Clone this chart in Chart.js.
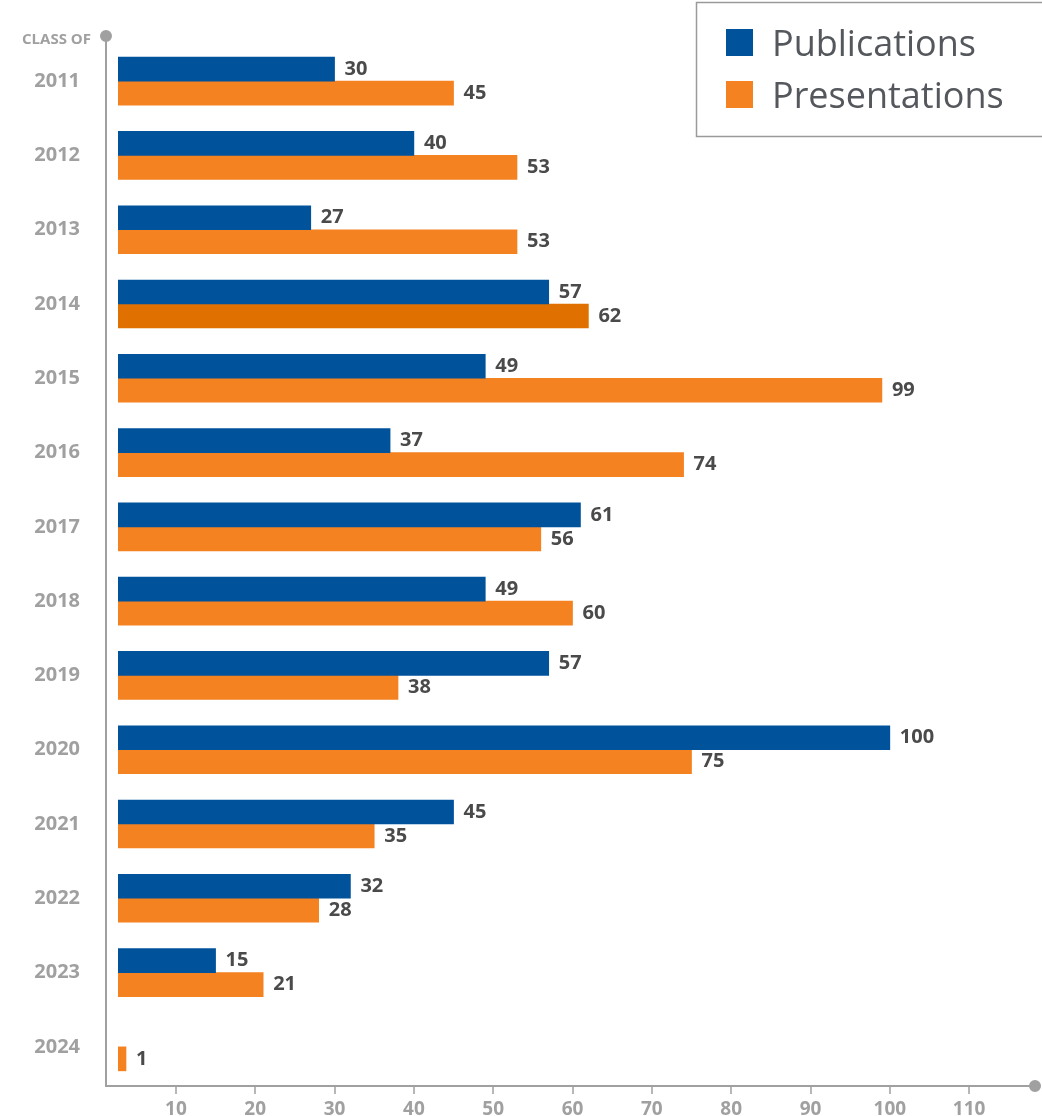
<!DOCTYPE html>
<html>
<head>
<meta charset="utf-8">
<script src="https://cdn.jsdelivr.net/npm/chart.js@4.4.1/dist/chart.umd.min.js"></script>
<style>
  body { margin: 0; background: #fff; }
  #wrap { width: 1042px; height: 1116px; position: relative; }
</style>
</head>
<body>
<div id="wrap"><canvas id="classChart"></canvas></div>
<script>
  const years = ["2011", "2012", "2013", "2014", "2015", "2016", "2017",
                 "2018", "2019", "2020", "2021", "2022", "2023", "2024"];
  const publications = [30, 40, 27, 57, 49, 37, 61, 49, 57, 100, 45, 32, 15, null];
  const presentations = [45, 53, 53, 62, 99, 74, 56, 60, 38, 75, 35, 28, 21, 1];
  const xTicks = [10, 20, 30, 40, 50, 60, 70, 80, 90, 100, 110];

  const BLUE = "#00529b";
  const ORANGE = "#f58220";
  const ORANGE_DARK = "#e07000";
  const GREY = "#a0a0a0";
  const LABEL = "#4a4a4a";
  const FONT = "'Open Sans', sans-serif";

  // 2014 presentations bar is shown highlighted (darker orange)
  const presColors = years.map(y => (y === "2014" ? ORANGE_DARK : ORANGE));

  const valueLabels = {
    id: "valueLabels",
    afterDatasetsDraw(chart) {
      const ctx = chart.ctx;
      ctx.save();
      ctx.font = "bold 20px " + FONT;
      ctx.fillStyle = LABEL;
      ctx.textBaseline = "middle";
      ctx.textAlign = "left";
      chart.data.datasets.forEach((ds, i) => {
        chart.getDatasetMeta(i).data.forEach((bar, j) => {
          const v = ds.data[j];
          if (v === null) return;
          ctx.fillText(String(v), bar.x + 10, bar.y);
        });
      });
      ctx.restore();
    }
  };

  const axisLines = {
    id: "axisLines",
    afterDraw(chart) {
      const { ctx, chartArea } = chart;
      const x = chart.scales.x;
      const left = chartArea.left - 12;
      const base = chartArea.bottom + 2;
      ctx.save();
      ctx.strokeStyle = GREY;
      ctx.fillStyle = GREY;
      ctx.lineWidth = 2;
      ctx.beginPath();
      ctx.moveTo(left, 36);
      ctx.lineTo(left, base);
      ctx.lineTo(chartArea.right, base);
      ctx.stroke();
      ctx.lineWidth = 1.5;
      ctx.beginPath();
      xTicks.forEach(v => {
        const px = Math.round(x.getPixelForValue(v));
        ctx.moveTo(px, base);
        ctx.lineTo(px, base + 8);
      });
      ctx.stroke();
      ctx.beginPath();
      ctx.arc(left, 36, 6, 0, Math.PI * 2);
      ctx.arc(chartArea.right, base, 6, 0, Math.PI * 2);
      ctx.fill();
      ctx.font = "bold 15px " + FONT;
      ctx.textAlign = "right";
      ctx.textBaseline = "middle";
      ctx.fillText("CLASS OF", 91, 40);
      ctx.restore();
    }
  };

  const boxLegend = {
    id: "boxLegend",
    afterDraw(chart) {
      const ctx = chart.ctx;
      ctx.save();
      ctx.strokeStyle = "#9a9a9a";
      ctx.lineWidth = 1.5;
      ctx.strokeRect(696.5, 2.5, 360, 134);
      ctx.font = "36px " + FONT;
      ctx.textBaseline = "alphabetic";
      ctx.textAlign = "left";
      chart.data.datasets.forEach((ds, i) => {
        const top = 29 + i * 52;
        ctx.fillStyle = ds.legendColor;
        ctx.fillRect(726, top, 27, 27);
        ctx.fillStyle = "#54575c";
        ctx.fillText(ds.label, 772, top + 27);
      });
      ctx.restore();
    }
  };

  new Chart(document.getElementById("classChart"), {
    type: "bar",
    data: {
      labels: years,
      datasets: [
        {
          label: "Publications",
          data: publications,
          backgroundColor: BLUE,
          legendColor: BLUE,
          barThickness: 24,
          minBarLength: 8,
        },
        {
          label: "Presentations",
          data: presentations,
          backgroundColor: presColors,
          legendColor: ORANGE,
          barThickness: 24,
          minBarLength: 8,
        },
      ],
    },
    options: {
      indexAxis: "y",
      responsive: true,
      maintainAspectRatio: false,
      animation: false,
      layout: { padding: { top: 44, right: 7, left: 0, bottom: 0 } },
      plugins: {
        legend: { display: false },
        tooltip: { enabled: false },
      },
      scales: {
        x: {
          min: 2.7,
          max: 118.3,
          grid: { display: false, drawTicks: false },
          border: { display: false },
          afterFit: s => { s.height = 32; s.paddingLeft = 0; s.paddingRight = 0; },
          afterBuildTicks: s => { s.ticks = xTicks.map(v => ({ value: v })); },
          ticks: {
            color: GREY,
            padding: 14,
            font: { family: FONT, size: 19, weight: "bold" },
          },
        },
        y: {
          grid: { display: false, drawTicks: false },
          border: { display: false },
          afterFit: s => { s.width = 118; s.paddingTop = 0; s.paddingBottom = 0; },
          ticks: {
            color: GREY,
            padding: 38,
            font: { family: FONT, size: 20, weight: "bold" },
          },
        },
      },
    },
    plugins: [valueLabels, axisLines, boxLegend],
  });
</script>
</body>
</html>
